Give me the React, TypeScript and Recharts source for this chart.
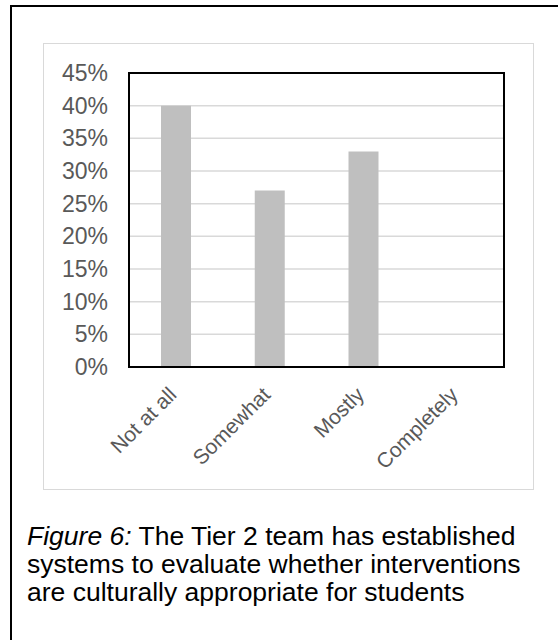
import { BarChart, Bar, XAxis, YAxis, CartesianGrid, ReferenceArea } from "recharts";

const categories = ["Not at all", "Somewhat", "Mostly", "Completely"];
const shares = [0.4, 0.27, 0.33, 0];
const yTicks = [0, 0.05, 0.1, 0.15, 0.2, 0.25, 0.3, 0.35, 0.4, 0.45];

const data = categories.map((name, i) => ({ name, value: shares[i] }));

const font = "'Liberation Sans', Arial, sans-serif";

function AngledTick({ x, y, payload }: any) {
  return (
    <g transform={`translate(${x + 2},${y + 21})`}>
      <text
        textAnchor="end"
        transform="rotate(-45)"
        fill="#595959"
        fontSize={21}
        fontFamily={font}
      >
        {payload.value}
      </text>
    </g>
  );
}

export default function App() {
  return (
    <div
      style={{
        position: "absolute",
        left: 0,
        top: 0,
        width: 558,
        height: 640,
        background: "#fff",
        overflow: "hidden",
        fontFamily: font,
      }}
    >
      {/* outer frame: left and top edges only */}
      <div
        style={{
          position: "absolute",
          left: 10,
          top: 5,
          width: 560,
          height: 650,
          borderLeft: "2px solid #000",
          borderTop: "2px solid #000",
        }}
      />
      {/* chart area box */}
      <div
        style={{
          position: "absolute",
          left: 43,
          top: 43,
          width: 489,
          height: 445,
          border: "1px solid #d9d9d9",
        }}
      />
      <div style={{ position: "absolute", left: 0, top: 0 }}>
        <BarChart
          width={558}
          height={640}
          data={data}
          margin={{ top: 73, right: 54, left: 0, bottom: 0 }}
          barSize={30}
        >
          <CartesianGrid
            vertical={false}
            stroke="#d9d9d9"
            strokeWidth={1.5}
          />
          <XAxis
            dataKey="name"
            height={273}
            interval={0}
            tickLine={false}
            axisLine={{ stroke: "#000", strokeWidth: 2 }}
            tick={<AngledTick />}
          />
          <YAxis
            width={129}
            domain={[0, 0.45]}
            ticks={yTicks}
            tickFormatter={(v: number) => `${Math.round(v * 100)}%`}
            tickLine={false}
            tickSize={0}
            tickMargin={21}
            axisLine={{ stroke: "#000", strokeWidth: 2 }}
            tick={{ fill: "#595959", fontSize: 23, fontFamily: font }}
          />
          <Bar dataKey="value" fill="#bfbfbf" isAnimationActive={false} />
          {/* plot area border */}
          <ReferenceArea
            y1={0}
            y2={0.45}
            fill="none"
            stroke="#000"
            strokeWidth={2}
            ifOverflow="visible"
          />
        </BarChart>
      </div>
      <div
        style={{
          position: "absolute",
          left: 27,
          top: 522,
          fontSize: 26.5,
          lineHeight: "28px",
          color: "#000",
          whiteSpace: "nowrap",
        }}
      >
        <i>Figure 6:</i> The Tier 2 team has established
        <br />
        systems to evaluate whether interventions
        <br />
        are culturally appropriate for students
      </div>
    </div>
  );
}
